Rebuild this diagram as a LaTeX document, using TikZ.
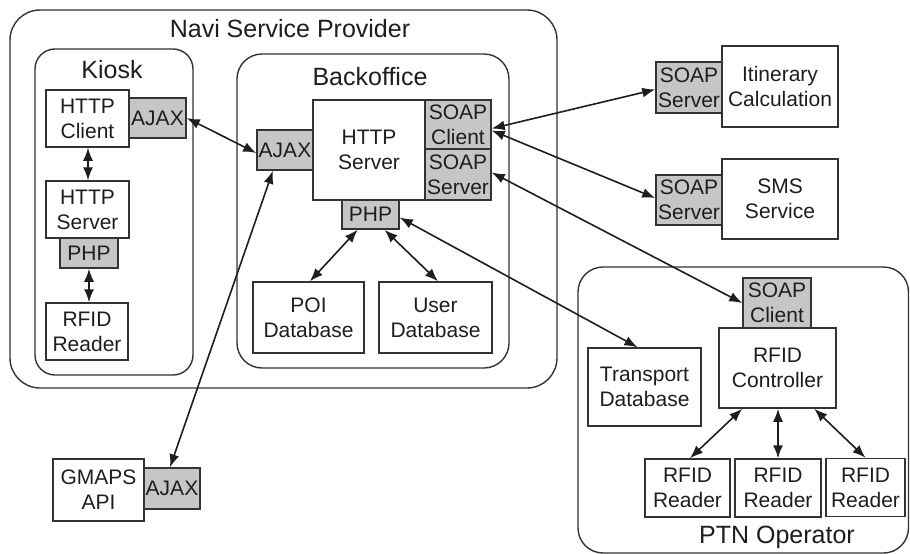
\documentclass[tikz,border=0pt]{standalone}
\usepackage{fontspec}
\setmainfont{Liberation Sans}
\usetikzlibrary{arrows.meta,calc}
\definecolor{lin}{HTML}{333333}
\definecolor{grayfill}{HTML}{C6C6C6}
\definecolor{txt}{HTML}{1E1E1E}
\begin{document}
\begin{tikzpicture}[x=1pt,y=-1pt,
  txtfont/.style={font=\fontsize{21}{25}\selectfont, text=txt},
  wbox/.style={draw=lin, line width=1.5pt, fill=white, inner sep=0pt, align=center, txtfont},
  gbox/.style={wbox, fill=grayfill},
  cont/.style={draw=lin, line width=1.4pt},
  conn/.style={draw=txt, line width=1.6pt, {Latex[length=13pt,width=10pt]}-{Latex[length=13pt,width=10pt]}},
  title/.style={anchor=base, inner sep=0pt, font=\fontsize{25}{30}\selectfont, text=txt}
]
\useasboundingbox[fill=white] (0,0) rectangle (910,554);

% containers
\draw[cont, rounded corners=30pt] (10,10) rectangle (557,388);
\draw[cont, rounded corners=20pt] (35,49) rectangle (193,375);
\draw[cont, rounded corners=25pt] (237,54) rectangle (509,368);
\draw[cont, rounded corners=25pt] (578,267) rectangle (908.5,553);

\node[title] (tnavi) at (290,37) {Navi Service Provider};
\node[title] (tkiosk) at (112,78) {Kiosk};
\node[title] (tback) at (370,85) {Backoffice};
\node[title] (tptn) at (777,543) {PTN Operator};

% Kiosk
\node[wbox, minimum width=83pt, minimum height=57pt] (kclient) at (87.5,118.5) {HTTP\\Client};
\node[gbox, minimum width=57pt, minimum height=40pt] (kajax) at (157.5,118) {AJAX};
\node[wbox, minimum width=83pt, minimum height=57pt] (kserver) at (87.5,209.5) {HTTP\\Server};
\node[gbox, minimum width=58pt, minimum height=30pt] (kphp) at (89,253) {PHP};
\node[wbox, minimum width=82pt, minimum height=57pt] (krfid) at (87,331.5) {RFID\\Reader};

% Backoffice
\node[wbox, minimum width=112pt, minimum height=100pt] (bserver) at (369,150) {HTTP\\Server};
\node[gbox, minimum width=56pt, minimum height=40pt] (bajax) at (285,150) {AJAX};
\node[gbox, minimum width=66pt, minimum height=49pt] (bsc) at (458,124.5) {SOAP\\Client};
\node[gbox, minimum width=66pt, minimum height=51pt] (bss) at (458,174.5) {SOAP\\Server};
\node[gbox, minimum width=57pt, minimum height=29pt] (bphp) at (370.5,214.5) {PHP};
\node[wbox, minimum width=111pt, minimum height=71pt] (poi) at (308.5,317.5) {POI\\Database};
\node[wbox, minimum width=113pt, minimum height=71pt] (udb) at (435.5,317.5) {User\\Database};

% External services
\node[gbox, minimum width=66pt, minimum height=51pt] (itsoap) at (689,87.5) {SOAP\\Server};
\node[wbox, minimum width=116pt, minimum height=81pt] (itin) at (780,86.5) {Itinerary\\Calculation};
\node[gbox, minimum width=66pt, minimum height=50pt] (smssoap) at (689,200) {SOAP\\Server};
\node[wbox, minimum width=116pt, minimum height=80pt] (sms) at (780,199) {SMS\\Service};

% PTN operator
\node[gbox, minimum width=68pt, minimum height=50pt] (psc) at (777,303) {SOAP\\Client};
\node[wbox, minimum width=117pt, minimum height=80pt] (ctrl) at (777.5,368) {RFID\\Controller};
\node[wbox, minimum width=113pt, minimum height=78pt] (tdb) at (644.5,387) {Transport\\Database};
\node[wbox, minimum width=85pt, minimum height=58pt] (r1) at (687.5,488) {RFID\\Reader};
\node[wbox, minimum width=86pt, minimum height=58pt] (r2) at (778,488) {RFID\\Reader};
\node[wbox, minimum width=79pt, minimum height=58pt] (r3) at (865.5,487.5) {RFID\\Reader};

% GMAPS
\node[wbox, minimum width=91pt, minimum height=62pt] (gapi) at (98.5,490) {GMAPS\\API};
\node[gbox, minimum width=56pt, minimum height=41pt] (gajax) at (172,488.5) {AJAX};

% connectors
\draw[conn] ($(kclient.south)+(0.5,0)$) -- ($(kserver.north)+(0.5,0)$);
\draw[conn] ($(kphp.south)+(0,0)$) -- ($(krfid.north)+(2,0)$);
\draw[conn] (kajax.east) -- ($(bajax.west)+(0,3)$);
\draw[conn] ($(gajax.north)+(-2,0)$) -- ($(bajax.south west)!0.29!(bajax.south east)$);
\draw[conn] ($(bsc.east)+(0,4)$) -- ($(itsoap.west)+(0,2)$);
\draw[conn] ($(bsc.east)+(0,6)$) -- ($(smssoap.west)+(0,-2)$);
\draw[conn] ($(bss.east)+(0,-2)$) -- (psc.west);
\draw[conn] ($(bphp.east)+(0,3)$) -- ($(tdb.north)+(-7,0)$);
\draw[conn] ($(bphp.south west)!0.28!(bphp.south east)$) -- ($(poi.north)+(1.5,0)$);
\draw[conn] ($(bphp.south west)!0.74!(bphp.south east)$) -- ($(udb.north)+(2.5,0)$);
\draw[conn] ($(ctrl.south west)+(24,0)$) -- ($(r1.north)+(2.5,0)$);
\draw[conn] ($(ctrl.south)+(0.5,0)$) -- (r2.north);
\draw[conn] ($(ctrl.south west)+(96,0)$) -- (r3.north);
\end{tikzpicture}
\end{document}
